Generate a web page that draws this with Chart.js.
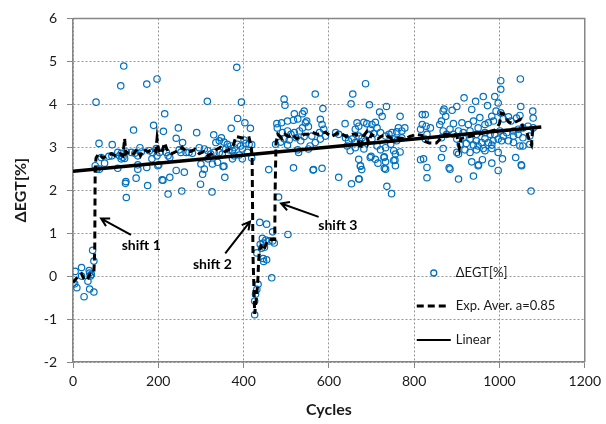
<!DOCTYPE html>
<html>
<head>
<meta charset="utf-8">
<script src="https://cdn.jsdelivr.net/npm/chart.js@4.4.1/dist/chart.umd.min.js"></script>
<style>
  html, body { margin: 0; padding: 0; background: #fff; }
  #wrap { width: 606px; height: 424px; }
</style>
</head>
<body>
<div id="wrap"><canvas id="egtChart" width="606" height="424"></canvas></div>
<script>
// ΔEGT[%] scatter (cycles / value)
const egtCycles = [
  0, 5, 9, 20, 26, 20, 35, 38, 39, 41, 43, 39, 49, 46, 49, 4,
  54, 119, 112, 173, 197, 215, 189, 142, 212, 247, 242, 257, 61, 92,
  66, 84, 91, 105, 109, 113, 117, 125, 137, 145, 152, 157, 160, 179, 187, 195, 197, 203, 219, 223, 249, 253, 265,
  52, 56, 62, 74, 105, 113, 121, 152, 152, 173, 185, 201, 199, 227, 227, 242, 261, 209, 148, 124, 123, 125, 175, 211, 223, 255,
  299, 304, 326, 352, 356, 315, 384, 386, 371, 290, 330, 348, 395, 495, 497, 403, 416,
  343, 335, 354, 362, 370, 378, 386, 393, 397, 401, 405, 413, 419,
  296, 308, 316, 323, 331, 343, 350, 358, 366, 374, 378, 390, 397, 409,
  316, 300, 308, 327, 339, 354, 374, 419, 459, 517, 272, 280,
  426, 426, 428, 431, 434, 438, 454, 468, 504, 444, 452, 460, 468, 472, 446, 439, 449, 442, 431, 446, 454, 447, 466, 482,
  478, 489, 503, 517, 527, 538, 542, 519, 479, 491, 503, 511, 519, 531, 538, 545, 495, 507, 523, 534, 542, 475, 487, 503, 527,
  653, 671, 674, 677, 736, 747, 563, 584, 529, 568, 730, 755,
  686, 656, 652, 586, 735, 719, 725, 767, 819, 548, 552, 580, 584, 588, 578, 560,
  638, 666, 670, 662, 682, 689, 701, 709, 713, 697, 721, 705, 748, 759, 771, 778, 763, 819, 815,
  616, 623, 639, 646, 654, 662, 670, 678, 686, 693, 701, 733, 741, 752, 759, 771,
  556, 568, 580, 592, 552, 643, 650, 662, 682, 713, 721, 733, 745, 752, 756, 767,
  670, 697, 709, 729, 733, 752, 815, 564, 674, 733, 756, 623, 670, 695, 730, 715, 699,
  1003, 1049, 1003, 917, 962, 944, 989, 900, 870, 868, 889, 874, 935, 972, 997, 992, 1050, 1078,
  1048, 1040, 1021, 1027, 1009, 1003, 982, 954, 966, 974, 986, 939, 927, 912, 892, 864, 860, 826,
  1079, 1079, 1067, 1055, 1044, 1033, 1017, 1001, 989, 978, 966, 950, 946, 931, 915, 904, 884, 868, 838, 828,
  1033, 1044, 1055, 1071, 1009, 997, 985, 966, 958, 946, 931, 915, 900, 892, 876, 864, 826, 830,
  1048, 1055, 1071, 1033, 1021, 1005, 982, 974, 962, 950, 939, 922, 908, 900, 904, 919, 931, 946, 966, 982, 997, 868,
  935, 960, 982, 1007, 1038, 1052, 864, 884, 950, 997, 904, 939, 830, 822,
  1074, 1051, 830, 882, 951
];
const egtValues = [
  -0.16, 0.11, -0.27, 0.2, -0.48, 0.0, -0.12, 0.13, 0.07, 0.0, 0.04, -0.3, -0.37, 0.6, 0.35, -0.18,
  4.05, 4.89, 4.43, 4.47, 4.59, 3.78, 3.51, 3.40, 3.37, 3.45, 3.21, 3.11, 3.09, 3.06,
  2.76, 2.79, 2.80, 2.88, 2.80, 2.86, 2.76, 2.89, 2.88, 2.86, 2.80, 2.99, 2.89, 2.92, 2.88, 2.97, 2.80, 2.88, 2.88, 2.80, 2.94, 2.88, 2.88,
  2.57, 2.49, 2.49, 2.63, 2.51, 2.73, 2.74, 2.59, 2.49, 2.53, 2.73, 2.59, 2.57, 2.76, 2.30, 2.46, 2.42, 2.24, 2.28, 2.20, 2.16, 1.83, 2.11, 2.23, 1.91, 1.98,
  2.14, 2.37, 1.96, 2.55, 2.30, 4.07, 4.86, 3.67, 3.44, 3.34, 3.29, 3.22, 4.05, 4.12, 3.98, 3.57, 3.44,
  3.15, 3.11, 3.12, 3.07, 3.03, 2.99, 3.07, 3.03, 2.96, 3.17, 3.09, 3.07, 3.06,
  2.99, 2.96, 2.92, 2.84, 2.88, 2.88, 2.84, 2.96, 2.94, 2.92, 2.80, 2.82, 2.73, 2.88,
  2.73, 2.61, 2.49, 2.61, 2.65, 2.56, 2.73, 2.75, 2.48, 2.52, 2.88, 2.86,
  -0.90, -0.58, -0.42, -0.31, -0.19, 1.25, 1.21, 1.03, 0.97, 0.88, 0.84, 0.82, 0.82, 0.77, 0.77, 0.74, 0.67, 0.65, 0.54, 0.41, 0.38, 0.34, -0.04, 1.84,
  3.55, 3.57, 3.61, 3.63, 3.66, 3.78, 3.84, 3.78, 3.45, 3.34, 3.38, 3.30, 3.34, 3.38, 3.45, 3.57, 3.20, 3.17, 3.22, 3.15, 3.25, 3.07, 3.12, 3.05, 2.94,
  2.15, 2.26, 2.57, 2.48, 2.09, 1.92, 2.47, 2.51, 2.88, 4.24, 2.51, 2.70,
  4.48, 4.24, 4.01, 3.90, 3.95, 3.82, 3.72, 3.72, 3.76, 3.61, 3.48, 3.65, 3.53, 3.42, 3.34, 3.26,
  3.55, 3.57, 3.49, 3.42, 3.58, 3.55, 3.53, 3.58, 3.45, 3.42, 3.34, 3.32, 3.34, 3.36, 3.38, 3.45, 3.45, 3.53, 3.42,
  3.34, 3.30, 3.22, 3.15, 3.19, 3.11, 3.26, 3.22, 3.15, 3.30, 3.19, 3.26, 3.30, 3.19, 3.15, 3.22,
  3.03, 3.11, 3.19, 3.26, 2.96, 3.03, 2.92, 2.99, 2.96, 3.03, 2.94, 2.99, 3.07, 2.92, 2.84, 2.89,
  2.72, 2.76, 2.72, 2.76, 2.66, 2.69, 2.71, 2.48, 2.56, 2.49, 2.57, 2.30, 2.26, 3.99, 2.78, 2.63, 2.79,
  4.55, 4.59, 4.35, 4.15, 4.18, 4.07, 4.18, 3.95, 3.89, 3.84, 3.86, 3.72, 3.88, 3.97, 4.03, 3.84, 3.95, 3.84,
  3.74, 3.68, 3.71, 3.61, 3.66, 3.80, 3.72, 3.69, 3.53, 3.57, 3.61, 3.61, 3.53, 3.57, 3.55, 3.61, 3.53, 3.76,
  3.68, 3.45, 3.49, 3.45, 3.42, 3.38, 3.34, 3.38, 3.30, 3.30, 3.34, 3.45, 3.30, 3.38, 3.34, 3.38, 3.42, 3.38, 3.45, 3.49,
  3.26, 3.30, 3.22, 3.26, 3.26, 3.19, 3.15, 3.20, 3.11, 3.15, 3.19, 3.22, 3.19, 3.30, 3.30, 3.22, 3.19, 3.30,
  3.03, 3.03, 3.07, 3.11, 3.15, 3.15, 3.05, 3.11, 2.97, 3.03, 3.05, 3.09, 3.07, 2.88, 2.84, 2.94, 2.88, 2.94, 2.92, 2.97, 2.88, 2.97,
  2.66, 2.71, 2.63, 2.73, 2.76, 2.57, 2.76, 2.49, 2.57, 2.46, 2.26, 2.33, 2.53, 2.73,
  1.98, 2.59, 2.29, 2.52, 2.59
];

// Exp. Aver. a=0.85 (dashed)
const expCycles = [
  0, 8, 15, 20, 25, 30, 35, 40, 45, 49, 51, 52, 54, 60, 70, 80, 90, 100, 110, 117, 121, 124, 132, 142, 150, 158,
  166, 176, 186, 194, 197, 200, 207, 215, 222, 232, 242, 250, 256, 266, 276, 286, 296, 306, 316, 326, 336, 346,
  356, 366, 376, 382, 395, 405, 413, 418, 420, 422, 426, 430, 433, 435, 437, 441, 447, 453, 460, 468, 473, 474,
  476, 480, 490, 497, 505, 514, 524, 534, 542, 550, 560, 575, 592, 605, 615, 625, 640, 655, 665, 674, 680, 688,
  692, 700, 715, 730, 748, 760, 778, 790, 805, 818, 822, 835, 852, 862, 872, 890, 900, 906, 910, 930, 950, 970,
  990, 1000, 1004, 1010, 1020, 1030, 1040, 1050, 1055, 1064, 1072, 1075, 1077, 1079
];
const expValues = [
  -0.15, -0.05, 0.0, 0.05, -0.05, -0.1, -0.05, 0.05, 0.05, 0.1, 0.6, 2.5, 2.75, 2.85, 2.75, 2.8, 2.85, 2.8, 2.85, 2.8, 3.2, 2.85, 2.9, 2.85, 2.95, 2.8,
  2.95, 2.9, 2.95, 2.9, 3.2, 2.95, 2.85, 3.1, 2.9, 2.85, 2.9, 2.95, 3.0, 2.9, 2.9, 2.95, 2.85, 2.9, 2.8, 2.85, 2.95, 3.0,
  2.9, 2.95, 3.05, 3.25, 3.22, 3.2, 3.22, 3.0, 2.8, 0.5, -0.88, -0.5, -0.2, 0.3, 0.6, 0.7, 0.6, 0.75, 0.85, 0.85, 0.85, 2.0,
  3.1, 3.3, 3.2, 3.3, 3.25, 3.3, 3.2, 3.25, 3.3, 3.3, 3.35, 3.3, 3.35, 3.25, 3.3, 3.35, 3.25, 3.3, 3.3, 2.95, 3.25, 3.35,
  3.1, 3.3, 3.2, 3.3, 3.2, 3.22, 3.2, 3.25, 3.3, 3.28, 3.15, 3.1, 3.1, 3.2, 3.3, 3.3, 3.28, 2.98, 3.2, 3.25, 3.3, 3.35,
  3.4, 3.55, 3.8, 3.78, 3.6, 3.55, 3.6, 3.65, 3.45, 3.35, 3.1, 3.05, 3.3, 3.45
];

// Linear trend
const linCycles = [0, 1098];
const linValues = [2.44, 3.47];

const xTicks = { min: 0, max: 1200, step: 200 };
const yTicks = { min: -2, max: 6, step: 1 };

const BLUE = 'rgb(0, 112, 192)';
const GRID = '#969696';
const AXIS = '#868686';

Chart.defaults.font.family = 'Lato, "Liberation Sans", sans-serif';
Chart.defaults.color = '#1a1a1a';

function toPoints(xs, ys) {
  return xs.map((x, i) => ({ x: x, y: ys[i] }));
}

// top/right frame of the plot area
const frame = {
  id: 'frame',
  beforeDatasetsDraw(chart) {
    const { ctx, chartArea: a } = chart;
    ctx.save();
    ctx.strokeStyle = AXIS;
    ctx.lineWidth = 1.5;
    ctx.beginPath();
    ctx.moveTo(a.left, a.top);
    ctx.lineTo(a.right, a.top);
    ctx.lineTo(a.right, a.bottom);
    ctx.stroke();
    ctx.restore();
  }
};

// arrows with labels, placed in data coordinates
const shifts = [
  { text: 'shift 1', tx: 160, ty: 0.71, x0: 136, y0: 0.96, x1: 66, y1: 1.34 },
  { text: 'shift 2', tx: 327, ty: 0.27, x0: 357, y0: 0.53, x1: 415, y1: 1.27 },
  { text: 'shift 3', tx: 621, ty: 1.19, x0: 576, y0: 1.38, x1: 488, y1: 1.69 }
];

const shiftNotes = {
  id: 'shiftNotes',
  afterDatasetsDraw(chart) {
    const { ctx, scales: { x, y } } = chart;
    ctx.save();
    ctx.strokeStyle = '#000';
    ctx.fillStyle = '#000';
    ctx.lineWidth = 2;
    ctx.font = 'bold 14px Lato, sans-serif';
    ctx.textAlign = 'center';
    ctx.textBaseline = 'middle';
    shifts.forEach(s => {
      const px0 = x.getPixelForValue(s.x0), py0 = y.getPixelForValue(s.y0);
      const px1 = x.getPixelForValue(s.x1), py1 = y.getPixelForValue(s.y1);
      ctx.beginPath();
      ctx.moveTo(px0, py0);
      ctx.lineTo(px1, py1);
      const ang = Math.atan2(py1 - py0, px1 - px0);
      const len = 9;
      ctx.moveTo(px1 - len * Math.cos(ang - 0.5), py1 - len * Math.sin(ang - 0.5));
      ctx.lineTo(px1, py1);
      ctx.lineTo(px1 - len * Math.cos(ang + 0.5), py1 - len * Math.sin(ang + 0.5));
      ctx.stroke();
      ctx.fillText(s.text, x.getPixelForValue(s.tx), y.getPixelForValue(s.ty));
    });
    ctx.restore();
  }
};

// legend in the lower right of the plot
const boxLegend = {
  id: 'boxLegend',
  afterDraw(chart) {
    const { ctx, chartArea: a } = chart;
    const lx = a.right - 168, tx = a.right - 129;
    const rows = [a.bottom - 89, a.bottom - 56, a.bottom - 22];
    ctx.save();
    ctx.font = '13px Lato, sans-serif';
    ctx.textBaseline = 'middle';
    // circle
    ctx.strokeStyle = BLUE;
    ctx.lineWidth = 1.3;
    ctx.fillStyle = '#fff';
    ctx.beginPath();
    ctx.arc(lx + 17, rows[0], 3, 0, Math.PI * 2);
    ctx.fill();
    ctx.stroke();
    // dashed
    ctx.strokeStyle = '#000';
    ctx.lineWidth = 3;
    ctx.setLineDash([7, 4]);
    ctx.beginPath();
    ctx.moveTo(lx, rows[1]);
    ctx.lineTo(lx + 32, rows[1]);
    ctx.stroke();
    // solid
    ctx.setLineDash([]);
    ctx.lineWidth = 2;
    ctx.beginPath();
    ctx.moveTo(lx, rows[2]);
    ctx.lineTo(lx + 34, rows[2]);
    ctx.stroke();
    ctx.fillStyle = '#1a1a1a';
    ctx.fillText('ΔEGT[%]', tx, rows[0]);
    ctx.fillText('Exp. Aver. a=0.85', tx, rows[1]);
    ctx.fillText('Linear', tx, rows[2]);
    ctx.restore();
  }
};

new Chart(document.getElementById('egtChart'), {
  type: 'scatter',
  data: {
    datasets: [
      {
        label: 'Linear',
        data: toPoints(linCycles, linValues),
        showLine: true,
        borderColor: '#000',
        borderWidth: 3.5,
        pointRadius: 0,
        order: 1
      },
      {
        label: 'Exp. Aver. a=0.85',
        data: toPoints(expCycles, expValues),
        showLine: true,
        borderColor: '#000',
        borderWidth: 3,
        borderDash: [7, 4],
        pointRadius: 0,
        tension: 0,
        order: 2
      },
      {
        label: 'ΔEGT[%]',
        data: toPoints(egtCycles, egtValues),
        showLine: false,
        pointRadius: 3.2,
        pointBorderWidth: 1.2,
        pointBorderColor: BLUE,
        pointBackgroundColor: 'rgba(255,255,255,0)',
        order: 3
      }
    ]
  },
  options: {
    responsive: false,
    animation: false,
    layout: { padding: { left: 0, right: 20, top: 14, bottom: 0 } },
    plugins: { legend: { display: false }, tooltip: { enabled: false } },
    scales: {
      x: {
        type: 'linear',
        min: xTicks.min,
        max: xTicks.max,
        ticks: { stepSize: xTicks.step, font: { size: 14 }, padding: 5, maxRotation: 0, callback: v => String(v) },
        grid: { color: GRID, tickColor: AXIS, tickLength: 6, lineWidth: 1 },
        border: { color: AXIS, width: 1.5, dash: [2, 2] },
        title: { display: true, text: 'Cycles', font: { size: 16, weight: 'bold' }, padding: { top: 0, bottom: 5 } },
        afterFit(scale) { scale.height = 62; }
      },
      y: {
        min: yTicks.min,
        max: yTicks.max,
        ticks: { stepSize: yTicks.step, font: { size: 14 }, padding: 10, callback: v => String(v) },
        grid: { color: GRID, tickColor: AXIS, tickLength: 6, lineWidth: 1 },
        border: { color: AXIS, width: 1.5, dash: [2, 2] },
        title: { display: true, text: 'ΔEGT[%]', font: { size: 16, weight: 'bold' }, padding: { top: 11, bottom: 0 } },
        afterFit(scale) { scale.width = 73; }
      }
    }
  },
  plugins: [frame, shiftNotes, boxLegend]
});
</script>
</body>
</html>
